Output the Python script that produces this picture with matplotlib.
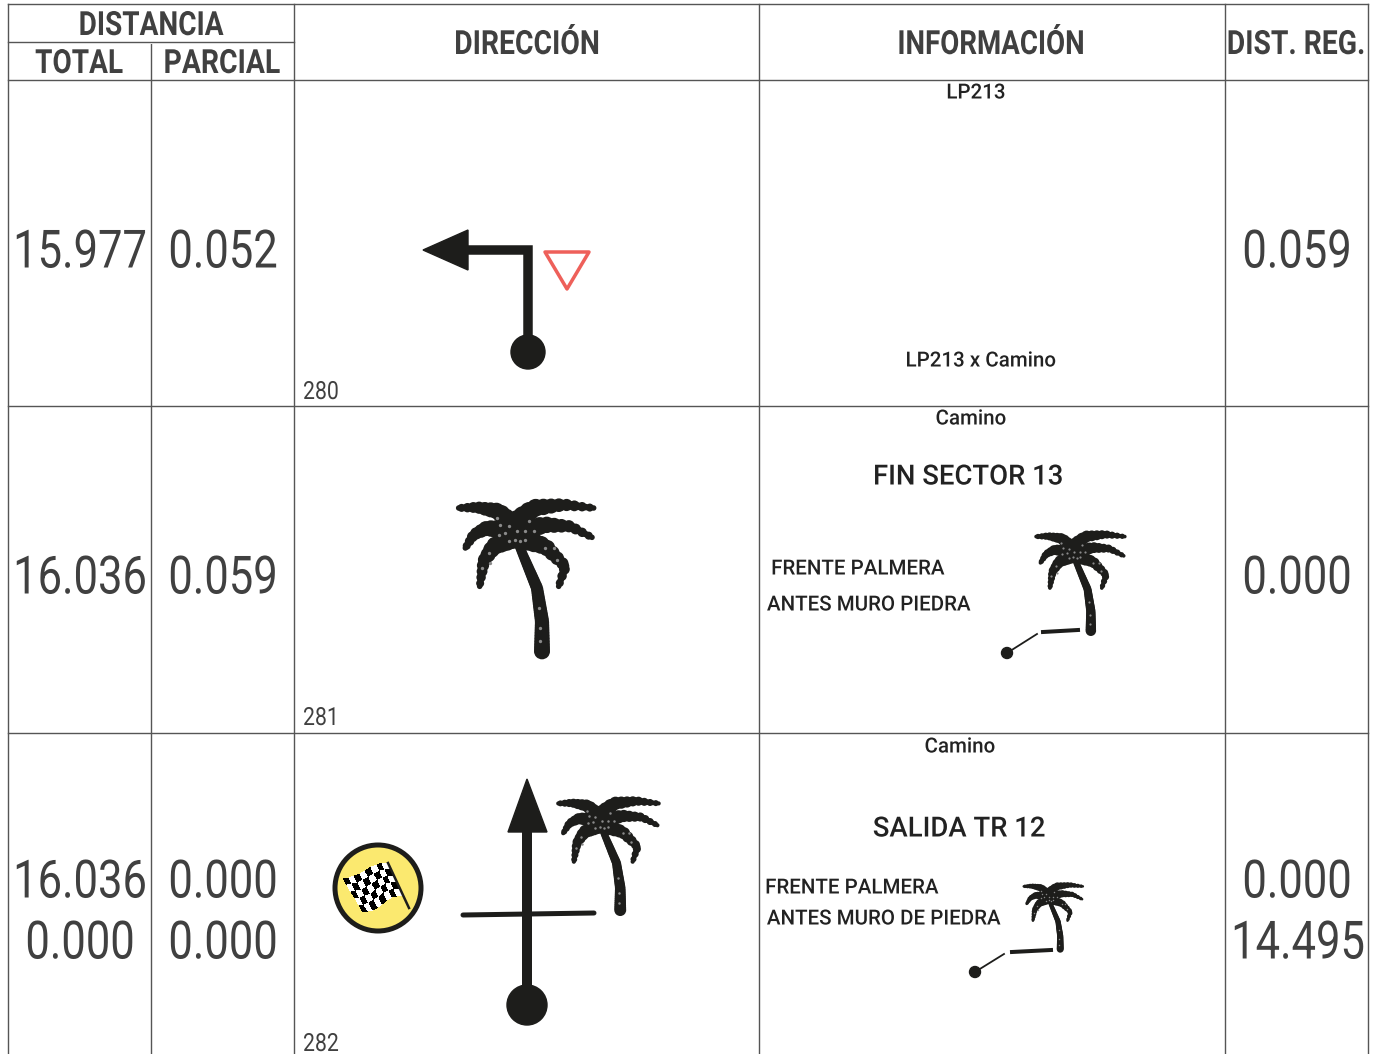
import numpy as np
import matplotlib.pyplot as plt
from matplotlib.patches import Circle, Polygon
from matplotlib.patheffects import AbstractPathEffect
from matplotlib.transforms import Affine2D

W, H = 1382, 1054
PX = 72 / 100  # one pixel in points

total_1 = ['15.977', '16.036', '16.036', '0.000']
parcial_1 = ['0.052', '0.059', '0.000', '0.000']
dist_reg = ['0.059', '0.000', '0.000', '14.495']
row_numbers = ['280', '281', '282']
headers_top = ['DISTANCIA', 'DIRECCIÓN', 'INFORMACIÓN', 'DIST. REG.']
headers_sub = ['TOTAL', 'PARCIAL']

col_x = [8, 151, 294, 759, 1225, 1368]

# palm drawing, coordinates of a 415x475 box
fronds = [
    [(170, 85), (125, 40), (60, 28), (5, 30)],
    [(165, 100), (90, 90), (50, 110), (25, 150)],
    [(165, 120), (110, 145), (80, 190), (68, 265)],
    [(180, 70), (230, 30), (320, 20), (410, 30)],
    [(185, 105), (260, 80), (340, 85), (405, 118)],
    [(190, 120), (265, 145), (325, 205), (305, 265)],
]
trunk = [(185, 140), (240, 270), (255, 370), (255, 460)]
crown_dots = [(120, 60), (155, 85), (125, 110), (180, 100), (205, 100), (155, 130),
              (215, 70), (190, 130), (95, 165), (75, 210), (250, 390), (250, 430),
              (290, 150), (300, 185), (245, 330), (130, 80), (175, 125), (205, 125),
              (100, 195), (230, 100), (145, 105), (265, 150)]

INK = '#1d1d1b'
TXT = '#404040'
LINE = '#555555'


class Condense(AbstractPathEffect):
    # squeezes the drawn glyphs sideways around the text anchor
    def __init__(self, cx, k):
        super().__init__()
        self.cx = cx
        self.k = k

    def draw_path(self, renderer, gc, tpath, affine, rgbFace=None):
        squeeze = Affine2D().translate(-self.cx, 0).scale(self.k, 1).translate(self.cx, 0)
        renderer.draw_path(gc, tpath, affine + squeeze, rgbFace)


def path_points(pts, n):
    pts = np.array(pts, float)
    d = np.r_[0, np.cumsum(np.hypot(*np.diff(pts, axis=0).T))]
    t = np.linspace(0, d[-1], n)
    return np.interp(t, d, pts[:, 0]), np.interp(t, d, pts[:, 1]), t / d[-1]


def palm(ax, x0, y0, s):
    for f in fronds:
        x, y, t = path_points(f, 22)
        r = (33 - 22 * t) * (1 - 0.25 * (np.arange(22) % 2))
        ax.scatter(x0 + x * s, y0 + y * s, s=(2 * r * s * PX) ** 2, c=INK, lw=0, zorder=3)
    ax.add_patch(Circle((x0 + 175 * s, y0 + 105 * s), 36 * s, color=INK, lw=0, zorder=3))
    x, y, t = path_points(trunk, 40)
    ax.scatter(x0 + x * s, y0 + y * s, s=(2 * (14 + 10 * t) * s * PX) ** 2, c=INK, lw=0, zorder=3)
    dots = np.array(crown_dots)
    ax.scatter(x0 + dots[:, 0] * s, y0 + dots[:, 1] * s, s=(10 * s * PX) ** 2, c='#8a8a8a', lw=0, zorder=4)


def flag(ax):
    # warped checkered flag inside the yellow disc
    u, v = np.meshgrid(np.linspace(0, 1, 9), np.linspace(0, 1, 6))
    tl, tr = np.array([343, 878]), np.array([388, 863])
    bl, br = np.array([363, 912]), np.array([402, 895])
    X = (1 - v) * ((1 - u) * tl[0] + u * tr[0]) + v * ((1 - u) * bl[0] + u * br[0])
    Y = (1 - v) * ((1 - u) * tl[1] + u * tr[1]) + v * ((1 - u) * bl[1] + u * br[1])
    Y = Y + 2 * np.sin(u * 2 * np.pi)
    C = np.indices((5, 8)).sum(axis=0) % 2
    ax.pcolormesh(X, Y, C, cmap='gray', vmin=0, vmax=1, zorder=4, edgecolors='none')
    ax.plot([388, 409], [863, 908], color=INK, lw=2.5 * PX, zorder=5)


plt.rcParams['font.family'] = ['Roboto', 'DejaVu Sans']
fig = plt.figure(figsize=(W / 100, H / 100), dpi=100)
ax = fig.add_axes([0, 0, 1, 1])
ax.set_xlim(0, W)
ax.set_ylim(H, 0)
ax.axis('off')

# table grid
for x in col_x:
    ax.plot([x, x], [4, H], color=LINE, lw=1.4 * PX, zorder=1)
ax.plot([151, 151], [4, 42], color='white', lw=3 * PX, zorder=1.5)
for y in [4, 80, 406, 733]:
    ax.plot([8, 1368], [y, y], color=LINE, lw=1.4 * PX, zorder=2)
ax.plot([8, 294], [42, 42], color=LINE, lw=1.4 * PX, zorder=2)


def label(x, y, s, size, k, color=TXT, weight='normal', ha='center'):
    t = ax.text(x, y, s, ha=ha, va='center', fontsize=size, color=color, fontweight=weight)
    t.set_path_effects([Condense(x, k)])


def head(x, y, s, k=0.84):
    label(x, y, s, 24, k, weight='bold')


head(151, 26, headers_top[0])
head(527, 45, headers_top[1], 0.85)
head(991, 45, headers_top[2], 0.83)
head(1296, 45, headers_top[3], 0.85)
head(79, 64, headers_sub[0])
head(222, 64, headers_sub[1], 0.85)


def big(x, y, s, k=0.825):
    label(x, y, s, 38, k)


big(80, 253, total_1[0])
big(80, 579, total_1[1])
big(80, 883, total_1[2])
big(80, 944, total_1[3])
big(223, 253, parcial_1[0])
big(223, 579, parcial_1[1])
big(223, 883, parcial_1[2])
big(223, 944, parcial_1[3])
big(1297, 253, dist_reg[0])
big(1297, 579, dist_reg[1])
big(1297, 883, dist_reg[2])
big(1298, 944, dist_reg[3])

for y, s in zip([392, 718, 1044], row_numbers):
    label(303, y, s, 18, 0.85, ha='left')

# row 1 icon
ax.plot([528, 528, 465], [352, 250, 250], color=INK, lw=9.5 * PX, solid_joinstyle='miter', zorder=3)
ax.add_patch(Polygon([(423, 250), (468, 230), (468, 270)], color=INK, zorder=3))
ax.add_patch(Circle((528, 352), 17, color=INK, zorder=3))
ax.add_patch(Polygon([(545, 252), (589, 252), (567, 289)], fc='none', ec='#ee605a', lw=3.5 * PX,
                     joinstyle='round', zorder=3))

# row 2 icon
palm(ax, 457, 498, 1 / 3)

# row 3 icon
ax.plot([527, 527], [1005, 825], color=INK, lw=10 * PX, zorder=3)
ax.add_patch(Polygon([(527, 779), (508, 832), (547, 832)], color=INK, zorder=3))
ax.add_patch(Circle((527, 1005), 20, color=INK, zorder=3))
ax.plot([463, 594], [915, 913], color=INK, lw=5 * PX, solid_capstyle='round', zorder=3)
palm(ax, 557, 796, 0.248)
ax.add_patch(Circle((378, 888), 43, fc='#fbe96f', ec=INK, lw=5 * PX, zorder=3))
flag(ax)


# information column
def info(x, y, s, size=15, k=0.985):
    label(x, y, s, size, k, color='#222222', weight='medium')


info(976, 93, 'LP213')
info(981, 361, 'LP213 x Camino')
info(971, 419, 'Camino')
info(968, 477, 'FIN SECTOR 13', 20, 0.99)
info(858, 569, 'FRENTE PALMERA')
info(869, 605, 'ANTES MURO PIEDRA')
info(960, 747, 'Camino')
info(959, 829, 'SALIDA TR 12', 20, 0.99)
info(852, 888, 'FRENTE PALMERA')
info(884, 919, 'ANTES MURO DE PIEDRA')

palm(ax, 1035, 530, 0.219)
ax.plot([1043, 1078], [632, 630], color=INK, lw=4 * PX, zorder=3)
ax.plot([1007, 1037], [653, 634], color=INK, lw=1.8 * PX, zorder=3)
ax.add_patch(Circle((1007, 653), 5.5, color=INK, zorder=3))

palm(ax, 1023, 882, 0.146)
ax.plot([1012, 1051], [952, 950], color=INK, lw=4 * PX, zorder=3)
ax.plot([975, 1004], [972, 954], color=INK, lw=1.8 * PX, zorder=3)
ax.add_patch(Circle((975, 972), 5.5, color=INK, zorder=3))

fig.savefig('out.png', dpi=100, facecolor='white')
